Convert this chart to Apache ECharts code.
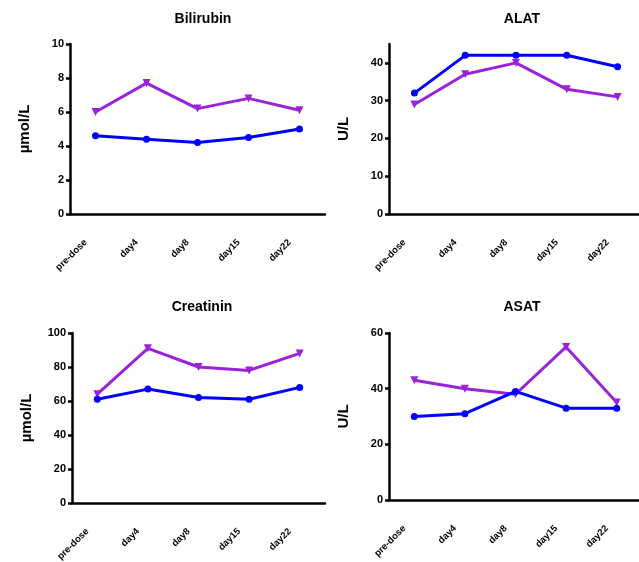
<!DOCTYPE html>
<html>
<head>
<meta charset="utf-8">
<script src="https://cdn.jsdelivr.net/npm/echarts@6/dist/echarts.min.js"></script>
<style>
  html, body { margin: 0; padding: 0; background: #fff; }
  #chart { width: 639px; height: 562px; }
</style>
</head>
<body>
<div id="chart"></div>
<script>
// Sampling time points
const categories = ['pre-dose', 'day4', 'day8', 'day15', 'day22'];

// Bilirubin (µmol/L)
const bilirubinBlue = [4.6, 4.4, 4.2, 4.5, 5.0];
const bilirubinPurple = [6.0, 7.7, 6.2, 6.8, 6.1];

// ALAT (U/L)
const alatBlue = [32, 42, 42, 42, 39];
const alatPurple = [29, 37, 40, 33, 31];

// Creatinin (µmol/L)
const creatininBlue = [61, 67, 62, 61, 68];
const creatininPurple = [64, 91, 80, 78, 88];

// ASAT (U/L)
const asatBlue = [30, 31, 39, 33, 33];
const asatPurple = [43, 40, 38, 55, 35];

// Y-axis tick labels per panel
const bilirubinTicks = [0, 2, 4, 6, 8, 10];
const alatTicks = [0, 10, 20, 30, 40];
const creatininTicks = [0, 20, 40, 60, 80, 100];
const asatTicks = [0, 20, 40, 60];

const BLUE = '#0000ff';
const PURPLE = '#9b22d8';
const FONT = 'Liberation Sans, Arial, sans-serif';

const panels = [
  { title: 'Bilirubin', unit: 'µmol/L', blue: bilirubinBlue, purple: bilirubinPurple, ticks: bilirubinTicks, max: 10,
    grid: { left: 70, top: 44, width: 255, height: 170 }, titlePos: [198, 7] },
  { title: 'ALAT', unit: 'U/L', blue: alatBlue, purple: alatPurple, ticks: alatTicks, max: 45,
    grid: { left: 389, top: 44, width: 254, height: 170 }, titlePos: [517, 7] },
  { title: 'Creatinin', unit: 'µmol/L', blue: creatininBlue, purple: creatininPurple, ticks: creatininTicks, max: 100,
    grid: { left: 72, top: 333, width: 253, height: 170 }, titlePos: [197, 295] },
  { title: 'ASAT', unit: 'U/L', blue: asatBlue, purple: asatPurple, ticks: asatTicks, max: 60,
    grid: { left: 389, top: 333, width: 253, height: 167 }, titlePos: [517, 295] }
];

const option = {
  backgroundColor: '#fff',
  animation: false,
  title: panels.map(p => ({
    text: p.title,
    left: p.titlePos[0],
    top: p.titlePos[1],
    textAlign: 'center',
    textStyle: { fontFamily: FONT, fontSize: 14, fontWeight: 'bold', color: '#000' }
  })),
  // fixed plot rectangles; labels may sit outside them freely
  grid: panels.map(p => Object.assign({ containLabel: false, outerBoundsMode: 'none' }, p.grid)),
  xAxis: panels.map((p, i) => ({
    type: 'category',
    gridIndex: i,
    data: categories,
    boundaryGap: true,
    axisLine: { lineStyle: { color: '#000', width: 2.5 } },
    axisTick: { alignWithLabel: true, length: 5, lineStyle: { color: '#000', width: 2.5 } },
    axisLabel: {
      rotate: 45, margin: 17, color: '#000', padding: [0, 14, 0, 0],
      fontFamily: FONT, fontSize: 9.5, fontWeight: 'bold', interval: 0
    },
    splitLine: { show: false }
  })),
  yAxis: panels.map((p, i) => ({
    type: 'value',
    gridIndex: i,
    min: 0,
    max: p.max,
    name: p.unit,
    nameLocation: 'middle',
    nameGap: 38,
    nameRotate: 90,
    nameTextStyle: { fontFamily: FONT, fontSize: 15, fontWeight: 'bold', color: '#000' },
    axisLine: { show: true, lineStyle: { color: '#000', width: 2.5 } },
    axisTick: { show: true, length: 4, customValues: p.ticks, lineStyle: { color: '#000', width: 2.5 } },
    axisLabel: {
      customValues: p.ticks, margin: 6, color: '#000',
      fontFamily: FONT, fontSize: 11, fontWeight: 'bold'
    },
    splitLine: { show: false }
  })),
  series: panels.flatMap((p, i) => [
    {
      type: 'line', xAxisIndex: i, yAxisIndex: i, data: p.purple,
      symbol: 'triangle', symbolRotate: 180, symbolSize: 8,
      lineStyle: { color: PURPLE, width: 3 },
      itemStyle: { color: PURPLE }
    },
    {
      type: 'line', xAxisIndex: i, yAxisIndex: i, data: p.blue,
      symbol: 'circle', symbolSize: 7,
      lineStyle: { color: BLUE, width: 3 },
      itemStyle: { color: BLUE }
    }
  ])
};

const chart = echarts.init(document.getElementById('chart'), null, { renderer: 'canvas' });
chart.setOption(option);
</script>
</body>
</html>
